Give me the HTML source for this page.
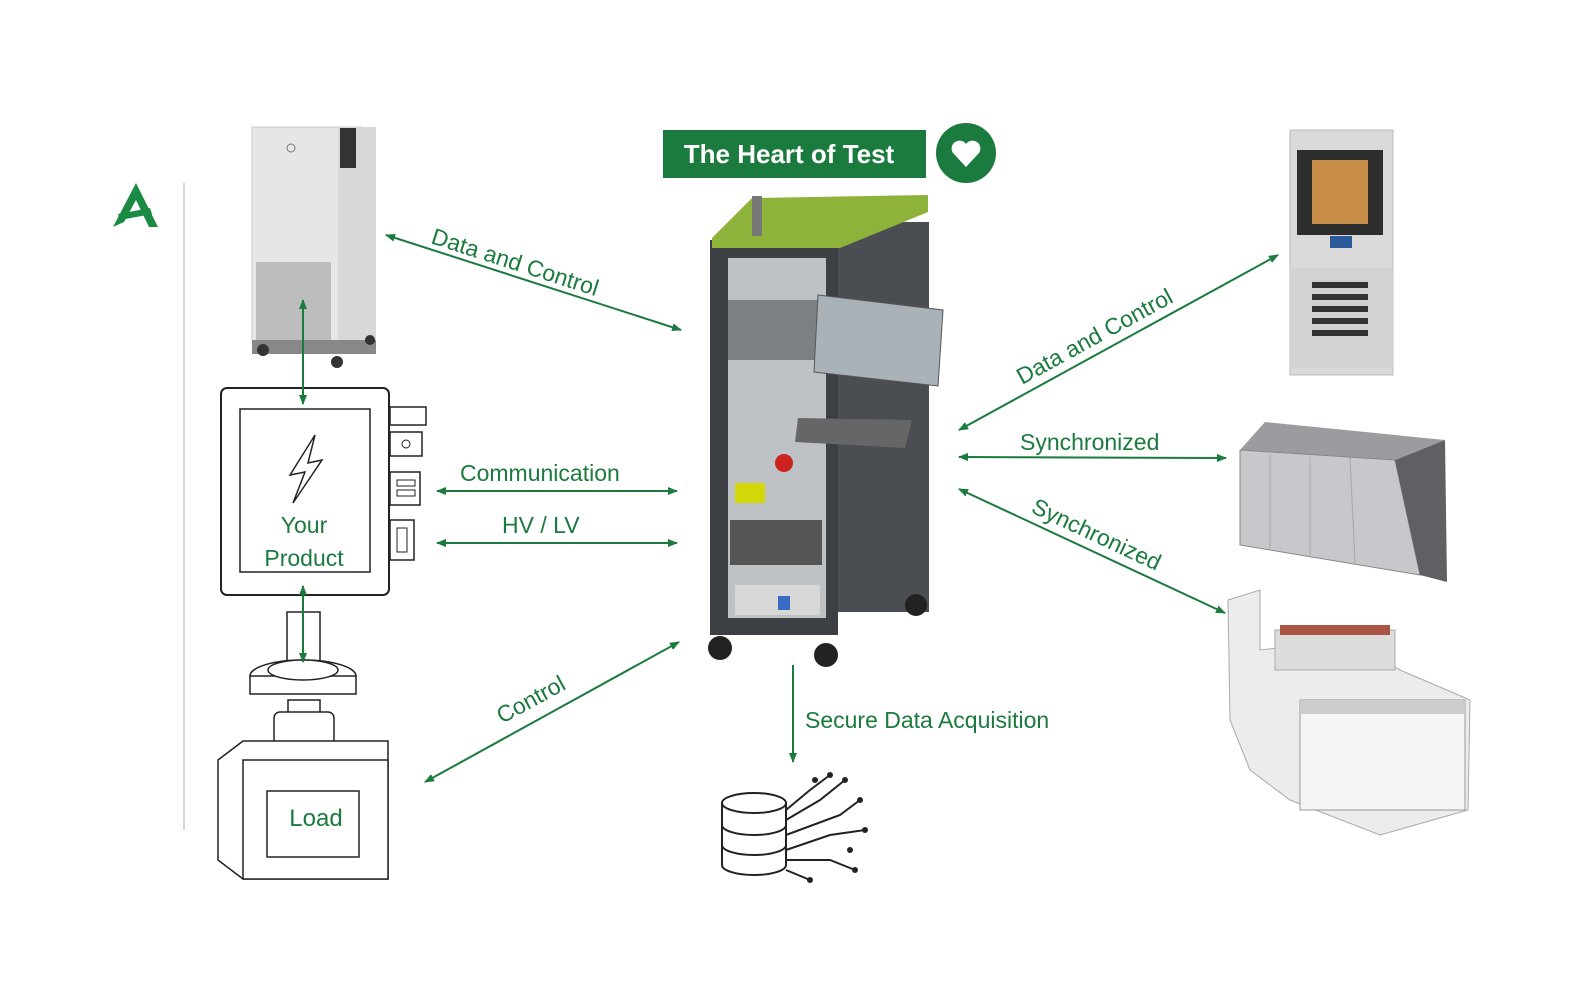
<!DOCTYPE html>
<html><head><meta charset="utf-8"><style>
html,body{margin:0;padding:0;background:#fff;}
svg{display:block;font-family:"Liberation Sans",sans-serif;}
</style></head><body>
<svg width="1579" height="1000" viewBox="0 0 1579 1000" xmlns="http://www.w3.org/2000/svg">
<defs>
<marker id="a" markerWidth="10" markerHeight="8" refX="9" refY="4" orient="auto-start-reverse" markerUnits="userSpaceOnUse">
<path d="M0,0 L10,4 L0,8 z" fill="#1b7a3e"/></marker>
</defs>
<rect width="1579" height="1000" fill="#fff"/>
<!-- logo -->
<path d="M113,227 L136,183 L158,227 L149,227 L136,200 L124,222 Z" fill="#1b8a45"/>
<path d="M118,214 L150,208 L152,214 L120,220 Z" fill="#1b8a45"/>
<line x1="184" y1="183" x2="184" y2="830" stroke="#ccc" stroke-width="1.5"/>

<!-- left fridge -->
<rect x="252" y="127" width="110" height="215" fill="#e6e6e6" stroke="#c8c8c8"/>
<rect x="338" y="127" width="38" height="215" fill="#d8d8d8"/>
<rect x="340" y="128" width="16" height="40" fill="#333"/>
<rect x="256" y="262" width="75" height="78" fill="#bdbdbd"/>
<rect x="252" y="340" width="124" height="14" fill="#888"/>
<circle cx="263" cy="350" r="6" fill="#333"/><circle cx="337" cy="362" r="6" fill="#333"/><circle cx="370" cy="340" r="5" fill="#333"/>
<circle cx="291" cy="148" r="4" fill="none" stroke="#777"/>

<!-- product -->
<rect x="221" y="388" width="168" height="207" rx="6" fill="#fff" stroke="#222" stroke-width="2"/>
<rect x="240" y="409" width="130" height="163" fill="#fff" stroke="#222" stroke-width="1.5"/>
<path d="M315,435 L290,475 L305,472 L293,503 L322,460 L308,463 Z" fill="none" stroke="#222" stroke-width="1.5"/>
<text x="304" y="533" font-size="23" fill="#1b7a3e" text-anchor="middle">Your</text>
<text x="304" y="566" font-size="23" fill="#1b7a3e" text-anchor="middle">Product</text>
<rect x="390" y="407" width="36" height="18" fill="#fff" stroke="#222" stroke-width="1.5"/>
<rect x="390" y="432" width="32" height="24" fill="#fff" stroke="#222" stroke-width="1.5"/>
<circle cx="406" cy="444" r="4" fill="none" stroke="#222"/>
<rect x="390" y="472" width="30" height="33" fill="#fff" stroke="#222" stroke-width="1.5"/>
<rect x="397" y="480" width="18" height="6" fill="none" stroke="#222"/><rect x="397" y="490" width="18" height="6" fill="none" stroke="#222"/>
<rect x="390" y="520" width="24" height="40" fill="#fff" stroke="#222" stroke-width="1.5"/>
<rect x="397" y="528" width="10" height="24" fill="none" stroke="#222"/>

<!-- load -->
<rect x="287" y="612" width="33" height="50" fill="#fff" stroke="#222" stroke-width="1.5"/>
<ellipse cx="303" cy="676" rx="53" ry="16" fill="#fff" stroke="#222" stroke-width="1.5"/>
<rect x="250" y="676" width="106" height="18" fill="#fff" stroke="#222" stroke-width="1.5"/>
<ellipse cx="303" cy="670" rx="35" ry="10" fill="#fff" stroke="#222" stroke-width="1.5"/>
<rect x="288" y="700" width="32" height="22" fill="#fff" stroke="#222" stroke-width="1.5"/>
<rect x="274" y="712" width="60" height="48" rx="6" fill="#fff" stroke="#222" stroke-width="1.5"/>
<path d="M218,760 L243,741 L388,741 L388,879 L243,879 L218,860 Z" fill="#fff" stroke="#222" stroke-width="1.5"/>
<rect x="243" y="760" width="145" height="119" fill="#fff" stroke="#222" stroke-width="1.5"/>
<rect x="267" y="791" width="92" height="66" fill="#fff" stroke="#222" stroke-width="1.5"/>
<text x="316" y="826" font-size="24" fill="#1b7a3e" text-anchor="middle">Load</text>

<!-- title -->
<rect x="663" y="130" width="263" height="48" fill="#1b7a3e"/>
<text x="789" y="163" font-size="26" font-weight="bold" fill="#fff" text-anchor="middle">The Heart of Test</text>
<circle cx="966" cy="153" r="30" fill="#1b7a3e"/>
<path d="M966,167 L953,153 A7,7 0 0 1 966,144 A7,7 0 0 1 979,153 Z" fill="#fff"/>

<!-- cabinet -->
<rect x="836" y="222" width="93" height="390" fill="#4a4d52"/>
<rect x="710" y="240" width="128" height="395" fill="#3c3f44"/>
<polygon points="712,238 752,198 928,195 928,212 840,248 712,248" fill="#8db33a"/>
<rect x="728" y="258" width="98" height="360" fill="#bfc2c4"/>
<rect x="728" y="300" width="98" height="60" fill="#7d8083"/>
<rect x="735" y="483" width="30" height="20" fill="#d4d80b"/>
<circle cx="784" cy="463" r="9" fill="#c22"/>
<rect x="730" y="520" width="92" height="45" fill="#555"/>
<rect x="735" y="585" width="85" height="30" fill="#d8d8d8"/>
<rect x="778" y="596" width="12" height="14" fill="#3a6ac4"/>
<rect x="752" y="196" width="10" height="40" fill="#777"/>
<polygon points="818,295 943,310 938,386 814,372" fill="#a8b2b8" stroke="#555"/>
<polygon points="798,418 912,420 905,448 795,442" fill="#666"/>
<circle cx="720" cy="648" r="12" fill="#222"/><circle cx="826" cy="655" r="12" fill="#222"/><circle cx="916" cy="605" r="11" fill="#222"/>

<!-- right chamber -->
<rect x="1290" y="130" width="103" height="245" fill="#dadada" stroke="#bbb"/>
<rect x="1297" y="150" width="86" height="85" fill="#2d2d2d"/>
<rect x="1312" y="160" width="56" height="64" fill="#c98d4a"/>
<rect x="1330" y="236" width="22" height="12" fill="#2a5a9a"/>
<rect x="1290" y="268" width="103" height="100" fill="#d2d2d2"/>
<g fill="#333"><rect x="1312" y="282" width="56" height="6"/><rect x="1312" y="294" width="56" height="6"/><rect x="1312" y="306" width="56" height="6"/><rect x="1312" y="318" width="56" height="6"/><rect x="1312" y="330" width="56" height="6"/></g>

<!-- tank -->
<polygon points="1240,450 1265,422 1445,440 1395,460" fill="#9a9c9f"/>
<polygon points="1240,450 1395,460 1420,575 1240,545" fill="#c6c8cb" stroke="#888"/>
<polygon points="1395,460 1445,440 1447,582 1420,575" fill="#5e6063"/>
<g stroke="#a5a7aa"><line x1="1270" y1="455" x2="1270" y2="548"/><line x1="1310" y1="457" x2="1310" y2="555"/><line x1="1350" y1="458" x2="1355" y2="562"/></g>

<!-- shaker -->
<polygon points="1228,600 1260,590 1260,650 1350,640 1400,670 1470,700 1468,810 1380,835 1290,800 1250,770 1230,720" fill="#ececec" stroke="#aaa"/>
<rect x="1300" y="700" width="165" height="110" fill="#f5f5f5" stroke="#999"/>
<rect x="1275" y="630" width="120" height="40" fill="#ddd" stroke="#aaa"/>
<rect x="1280" y="625" width="110" height="10" fill="#a54"/>
<rect x="1300" y="700" width="165" height="14" fill="#ccc"/>

<!-- database icon -->
<g fill="none" stroke="#222" stroke-width="2">
<ellipse cx="754" cy="803" rx="32" ry="10"/>
<path d="M722,803 V865 A32,10 0 0 0 786,865 V803"/>
<path d="M722,825 A32,10 0 0 0 786,825"/><path d="M722,845 A32,10 0 0 0 786,845"/>
<path d="M786,810 L810,790 L830,775 M786,820 L820,800 L845,780 M786,835 L840,815 L860,800 M786,850 L830,835 L865,830 M786,860 L830,860 L855,870 M786,870 L810,880"/>
</g>
<g fill="#222"><circle cx="830" cy="775" r="3"/><circle cx="845" cy="780" r="3"/><circle cx="860" cy="800" r="3"/><circle cx="865" cy="830" r="3"/><circle cx="855" cy="870" r="3"/><circle cx="810" cy="880" r="3"/><circle cx="815" cy="780" r="3"/><circle cx="850" cy="850" r="3"/></g>

<!-- arrows -->
<g stroke="#1b7a3e" stroke-width="2" fill="none" marker-start="url(#a)" marker-end="url(#a)">
<line x1="386" y1="235" x2="681" y2="330"/>
<line x1="959" y1="430" x2="1278" y2="255"/>
<line x1="959" y1="457" x2="1226" y2="458"/>
<line x1="959" y1="489" x2="1225" y2="613"/>
<line x1="437" y1="491" x2="677" y2="491"/>
<line x1="437" y1="543" x2="677" y2="543"/>
<line x1="425" y1="782" x2="679" y2="642"/>
<line x1="303" y1="300" x2="303" y2="404"/>
<line x1="303" y1="586" x2="303" y2="662"/>
</g>
<line x1="793" y1="665" x2="793" y2="762" stroke="#1b7a3e" stroke-width="2" marker-end="url(#a)"/>

<g fill="#1b7a3e" font-size="23">
<text transform="translate(430,243) rotate(17.8)">Data and Control</text>
<text transform="translate(1022,385) rotate(-28.7)">Data and Control</text>
<text x="1020" y="450">Synchronized</text>
<text transform="translate(1030,512) rotate(25)">Synchronized</text>
<text x="460" y="481">Communication</text>
<text x="502" y="533">HV  /  LV</text>
<text transform="translate(502,724) rotate(-28.5)">Control</text>
<text x="805" y="728">Secure Data Acquisition</text>
</g>
</svg>
</body></html>
